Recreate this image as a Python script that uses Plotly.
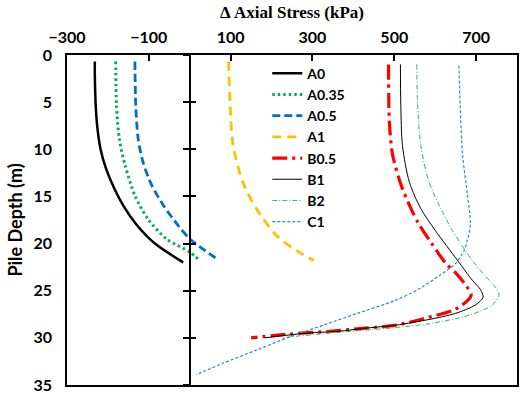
import plotly.graph_objects as go

# ---- data (depth in m, change in axial stress in kPa) ----
A0_depth = [0.7, 2, 4, 6, 8, 10, 12, 14, 16, 18, 20, 22]
A0_stress = [-232, -232, -231, -229, -225, -218, -205, -186, -162, -130, -85, -16]

A035_depth = [0.7, 5.35, 8.9, 11.7, 14.9, 17.4, 19.5, 20.9, 21.8]
A035_stress = [-181, -179, -172, -158, -134, -102, -57, 0, 24]

A05_depth = [0.7, 5.35, 8.9, 11.4, 13.8, 15.9, 18.1, 19.5, 21.7]
A05_stress = [-134, -132, -126, -114, -93, -65, -28, 0, 69]

A1_depth = [0.7, 5.35, 9.6, 13.5, 16.3, 19.1, 20.5, 21.8]
A1_stress = [95, 99, 106, 130, 163, 211, 252, 303]

B05_depth = [1.0, 7.1, 10.6, 14.2, 17.7, 19.9, 22.1, 23.1, 24.2, 25.5, 26.5, 27.1, 27.9, 28.65, 29.0, 29.3, 29.6, 30.0]
B05_stress = [486, 488, 496, 520, 557, 590, 626, 650, 671, 688, 667, 642, 577, 504, 423, 342, 244, 150]

B1_depth = [1.0, 5.35, 9.6, 13.5, 16.3, 18.6, 21.8, 23.9, 24.9, 25.7, 26.5, 27.4, 28.05, 28.65, 29.0, 29.3, 29.5, 30.0]
B1_stress = [515, 516, 520, 537, 565, 600, 655, 691, 711, 717, 699, 650, 585, 504, 423, 365, 285, 183]

B2_depth = [1.0, 5.35, 9.6, 13.5, 16.3, 18.6, 21.8, 23.9, 24.9, 25.5, 26.5, 27.6, 28.5, 28.9, 29.2, 29.5, 29.9, 30.0]
B2_stress = [555, 557, 565, 585, 614, 642, 691, 732, 752, 756, 740, 683, 585, 504, 423, 342, 244, 228]

C1_depth = [1.1, 5.35, 10.6, 14.9, 17.9, 19.6, 20.7, 22.1, 23.4, 24.8, 26.0, 27.4, 28.6, 29.9, 31.3, 32.7, 33.9]
C1_stress = [658, 661, 667, 679, 686, 679, 671, 650, 610, 561, 504, 410, 330, 244, 163, 81, 16]

series = [
    ("A0", A0_stress, A0_depth, "black", 2.5, "solid"),
    ("A0.35", A035_stress, A035_depth, "#00B050", 3, "2.5px,3px"),
    ("A0.5", A05_stress, A05_depth, "#0070C0", 2.8, "8px,4px"),
    ("A1", A1_stress, A1_depth, "#FFC000", 2.8, "9px,6px"),
    ("B0.5", B05_stress, B05_depth, "#FF0000", 3.2, "15px,5px,3px,5px"),
    ("B1", B1_stress, B1_depth, "black", 1, "solid"),
    ("B2", B2_stress, B2_depth, "#2DB85A", 1, "5px,2px,1px,2px"),
    ("C1", C1_stress, C1_depth, "#2F86D4", 1.2, "3px,2px"),
]

TICKFONT = dict(family="Lato", size=16, color="black", weight="bold")

fig = go.Figure()
for name, xs, ys, color, width, dash in series:
    fig.add_trace(go.Scatter(
        x=xs, y=ys, name=name, mode="lines",
        line=dict(color=color, width=width, dash=dash, shape="spline", smoothing=0.8),
    ))

# dummy traces to realise the vertical axis drawn at stress = 0
fig.add_trace(go.Scatter(x=[None], y=[None], yaxis="y2", showlegend=False, hoverinfo="skip"))
fig.add_trace(go.Scatter(x=[None], y=[None], yaxis="y3", showlegend=False, hoverinfo="skip"))

xmin, xmax = -300, 800
zero_pos = (0 - xmin) / (xmax - xmin)

inner_axis = dict(
    range=[35, 0], overlaying="y", anchor="free", position=zero_pos,
    showline=True, linecolor="black", linewidth=1.5,
    tickmode="linear", tick0=0, dtick=5, ticklen=6, tickwidth=1.5, tickcolor="black",
    showticklabels=False, showgrid=False, zeroline=False, automargin=False,
)

fig.update_layout(
    width=521, height=393,
    margin=dict(l=67, r=4, t=55, b=8),
    paper_bgcolor="white", plot_bgcolor="white",
    xaxis=dict(
        range=[xmin, xmax], side="top", automargin=False,
        tickmode="linear", tick0=-300, dtick=200,
        ticks="inside", ticklen=6, tickwidth=1.5, tickcolor="black",
        showline=True, linecolor="black", linewidth=1.5, mirror=True,
        showgrid=False, zeroline=False, ticklabelstandoff=4,
        tickfont=TICKFONT,
        title=dict(text="Δ Axial Stress (kPa)", standoff=4,
                   font=dict(family="Liberation Serif, DejaVu Serif, serif", size=17,
                             color="black", weight="bold")),
    ),
    yaxis=dict(
        range=[35, 0], tickmode="linear", tick0=0, dtick=5, automargin=False,
        ticks="", showline=True, linecolor="black", linewidth=1.5, mirror=True,
        showgrid=False, zeroline=False, ticklabelstandoff=10,
        ticklabeloverflow="allow",
        tickfont=TICKFONT,
        title=dict(text="Pile Depth (m)", standoff=6,
                   font=dict(family="Lato", size=18, color="black", weight="bold")),
    ),
    yaxis2=dict(inner_axis, ticks="outside"),
    yaxis3=dict(inner_axis, ticks="inside"),
    legend=dict(
        x=0.445, y=0.992, xanchor="left", yanchor="top",
        bgcolor="rgba(0,0,0,0)", tracegroupgap=0,
        font=dict(family="Lato", size=14, color="black", weight="bold"),
    ),
    showlegend=True,
)

fig.write_html(
    "out.html",
    config={"displayModeBar": False},
    post_script="document.body.style.margin='0';document.body.style.overflow='hidden';",
)
